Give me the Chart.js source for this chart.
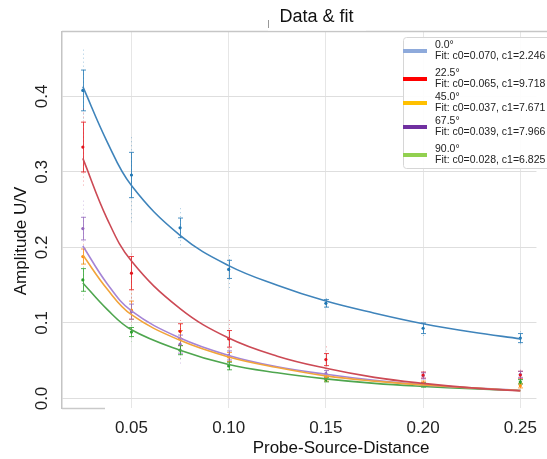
<!DOCTYPE html>
<html>
<head>
<meta charset="utf-8">
<script src="https://cdn.jsdelivr.net/npm/chart.js@4/dist/chart.umd.min.js"></script>
<style>
html,body{margin:0;padding:0;background:#fff;overflow:hidden;}
#wrap{width:547px;height:459px;position:relative;}
</style>
</head>
<body>
<div id="wrap"><canvas id="c"></canvas></div>
<script>
// ---- data ----
const angles = ["0.0°", "22.5°", "45.0°", "67.5°", "90.0°"];
const c0 = [0.070, 0.065, 0.037, 0.039, 0.028];
const c1 = [2.246, 9.718, 7.671, 7.966, 6.825];

const distances = [0.025, 0.05, 0.075, 0.10, 0.15, 0.20, 0.25];

const mean0  = [0.408, 0.296, 0.226, 0.171, 0.126, 0.093, 0.080];
const err0   = [0.027, 0.030, 0.013, 0.012, 0.005, 0.007, 0.006];
const lo0    = [0.370, 0.233, 0.200, 0.143, 0.117, 0.082, 0.071];
const hi0    = [0.462, 0.346, 0.252, 0.190, 0.133, 0.100, 0.089];

const mean22 = [0.333, 0.166, 0.089, 0.079, 0.0515, 0.031, 0.031];
const err22  = [0.033, 0.022, 0.010, 0.011, 0.008, 0.004, 0.005];
const lo22   = [0.280, 0.113, 0.065, 0.065, 0.038, 0.027, 0.025];
const hi22   = [0.384, 0.192, 0.104, 0.104, 0.069, 0.036, 0.038];

const mean45 = [0.188, 0.117, 0.080, 0.055, 0.027, 0.020, 0.017];
const err45  = [0.010, 0.012, 0.010, 0.006, 0.004, 0.003, 0.003];
const lo45   = [0.170, 0.100, 0.065, 0.045, 0.022, 0.016, 0.013];
const hi45   = [0.205, 0.150, 0.100, 0.065, 0.033, 0.024, 0.021];

const mean67 = [0.225, 0.115, 0.072, 0.057, 0.033, 0.030, 0.032];
const err67  = [0.015, 0.010, 0.012, 0.006, 0.004, 0.004, 0.004];
const lo67   = [0.195, 0.100, 0.045, 0.045, 0.026, 0.025, 0.026];
const hi67   = [0.262, 0.135, 0.090, 0.070, 0.040, 0.036, 0.038];

const mean90 = [0.157, 0.088, 0.064, 0.043, 0.025, 0.018, 0.022];
const err90  = [0.015, 0.006, 0.006, 0.005, 0.003, 0.003, 0.003];
const lo90   = [0.128, 0.075, 0.050, 0.034, 0.020, 0.014, 0.018];
const hi90   = [0.180, 0.097, 0.075, 0.050, 0.030, 0.022, 0.026];

// fit curves
const fitX   = [0.025, 0.0375, 0.05, 0.075, 0.10, 0.125, 0.15, 0.175, 0.20, 0.225, 0.25];
const fit0   = [0.413, 0.340, 0.282, 0.216, 0.176, 0.150, 0.129, 0.113, 0.099, 0.088, 0.079];
const fit22  = [0.318, 0.238, 0.182, 0.119, 0.080, 0.056, 0.040, 0.028, 0.020, 0.014, 0.010];
const fit45  = [0.190, 0.145, 0.111, 0.077, 0.055, 0.041, 0.030, 0.023, 0.018, 0.014, 0.0105];
const fit67  = [0.202, 0.152, 0.116, 0.080, 0.057, 0.042, 0.032, 0.024, 0.018, 0.014, 0.011];
const fit90  = [0.153, 0.118, 0.091, 0.064, 0.045, 0.034, 0.026, 0.020, 0.016, 0.013, 0.0105];

const xTicks = [0.05, 0.10, 0.15, 0.20, 0.25];
const yTicks = [0.0, 0.1, 0.2, 0.3, 0.4];

// ---- styles ----
const series = [
  {mean: mean0,  err: err0,  lo: lo0,  hi: hi0,  fit: fit0,  dot: '#1f77b4', line: '#3f84bb', sw: '#8eaadb'},
  {mean: mean22, err: err22, lo: lo22, hi: hi22, fit: fit22, dot: '#e3161e', line: '#cc4a55', sw: '#ff0000'},
  {mean: mean45, err: err45, lo: lo45, hi: hi45, fit: fit45, dot: '#ff8c10', line: '#f2a43a', sw: '#ffc000'},
  {mean: mean67, err: err67, lo: lo67, hi: hi67, fit: fit67, dot: '#9467bd', line: '#a585d6', sw: '#7030a0'},
  {mean: mean90, err: err90, lo: lo90, hi: hi90, fit: fit90, dot: '#2ca02c', line: '#4fa64f', sw: '#92d050'}
];
const FONT = "'Liberation Sans', Arial, sans-serif";

const datasets = [];
series.forEach((s, i) => {
  datasets.push({
    label: angles[i] + ' fit',
    data: fitX.map((x, k) => ({x: x, y: s.fit[k]})),
    showLine: true, borderColor: s.line, borderWidth: 1.6,
    pointRadius: 0, tension: 0.4, fill: false, order: 1
  });
  datasets.push({
    label: angles[i],
    data: distances.map((x, k) => ({x: x, y: s.mean[k]})),
    showLine: false, pointRadius: 1.6, pointBackgroundColor: s.dot,
    pointBorderColor: s.dot, pointBorderWidth: 0, order: 2
  });
});

const errorBars = {
  id: 'errorBars',
  beforeDatasetsDraw(chart) {
    const {ctx, scales: {x, y}} = chart;
    ctx.save();
    series.forEach(s => {
      distances.forEach((d, k) => {
        const px = Math.round(x.getPixelForValue(d)) + 0.5;
        // spread of individual samples
        ctx.strokeStyle = s.dot; ctx.globalAlpha = 0.4; ctx.lineWidth = 1;
        ctx.setLineDash([1, 3]);
        ctx.beginPath();
        ctx.moveTo(px, y.getPixelForValue(s.hi[k]));
        ctx.lineTo(px, y.getPixelForValue(s.lo[k]));
        ctx.stroke();
        ctx.setLineDash([]);
        // error bar
        ctx.globalAlpha = 0.8;
        const yt = y.getPixelForValue(s.mean[k] + s.err[k]);
        const yb = y.getPixelForValue(s.mean[k] - s.err[k]);
        ctx.beginPath();
        ctx.moveTo(px, yt); ctx.lineTo(px, yb);
        ctx.moveTo(px - 2.5, yt); ctx.lineTo(px + 2.5, yt);
        ctx.moveTo(px - 2.5, yb); ctx.lineTo(px + 2.5, yb);
        ctx.stroke();
      });
    });
    ctx.restore();
  }
};

const decor = {
  id: 'decor',
  afterDraw(chart) {
    const {ctx, chartArea: a, scales: {x, y}} = chart;
    ctx.save();
    // top frame line
    ctx.strokeStyle = '#c6c6c6'; ctx.lineWidth = 1.5;
    ctx.beginPath(); ctx.moveTo(a.left, 31.5); ctx.lineTo(547, 31.5); ctx.stroke();
    // partial bottom line
    ctx.strokeStyle = '#c9c9c9'; ctx.lineWidth = 1.5;
    ctx.beginPath(); ctx.moveTo(a.left, 408.5); ctx.lineTo(105, 408.5); ctx.stroke();
    // title box
    ctx.fillStyle = '#fff';
    ctx.fillRect(268, 0, 98, 30.5);
    ctx.strokeStyle = '#999'; ctx.lineWidth = 1;
    ctx.beginPath(); ctx.moveTo(268.5, 20); ctx.lineTo(268.5, 28); ctx.stroke();
    ctx.fillStyle = '#111';
    ctx.font = '18px ' + FONT;
    ctx.textAlign = 'center'; ctx.textBaseline = 'middle';
    ctx.fillText('Data & fit', 316.5, 17);
    // y tick labels (rotated)
    ctx.font = '17px ' + FONT;
    ctx.fillStyle = '#222';
    yTicks.forEach(v => {
      const py = y.getPixelForValue(v);
      ctx.save();
      ctx.translate(42, py);
      ctx.rotate(-Math.PI / 2);
      ctx.fillText(v.toFixed(1), 0, 0);
      ctx.restore();
    });
    // y title
    ctx.save();
    ctx.translate(21, 241);
    ctx.rotate(-Math.PI / 2);
    ctx.fillStyle = '#111';
    ctx.fillText('Amplitude U/V', 0, 0);
    ctx.restore();
    // x title
    ctx.fillStyle = '#111';
    ctx.fillText('Probe-Source-Distance', 341, 448);
    // legend
    const lx = 403, ly = 37, lw = 150, lh = 131;
    ctx.fillStyle = 'rgba(255,255,255,0.92)';
    ctx.strokeStyle = '#d6d6d6'; ctx.lineWidth = 1;
    ctx.beginPath();
    if (ctx.roundRect) ctx.roundRect(lx + 0.5, ly + 0.5, lw, lh, 3); else ctx.rect(lx + 0.5, ly + 0.5, lw, lh);
    ctx.fill(); ctx.stroke();
    ctx.font = '10.5px ' + FONT;
    ctx.textAlign = 'left'; ctx.textBaseline = 'middle';
    const swY = [51, 79, 103, 127, 155];
    series.forEach((s, i) => {
      const cy = swY[i];
      ctx.fillStyle = s.sw;
      ctx.fillRect(lx, cy - 2, 24, 4);
      ctx.fillStyle = '#222';
      ctx.fillText(angles[i], 435, cy - 6);
      ctx.fillText('Fit: c0=' + c0[i].toFixed(3) + ', c1=' + c1[i].toFixed(3), 435, cy + 5);
    });
    ctx.restore();
  }
};

new Chart(document.getElementById('c'), {
  type: 'scatter',
  data: {datasets: datasets},
  options: {
    responsive: true, maintainAspectRatio: false, animation: false,
    devicePixelRatio: 1,
    layout: {padding: {top: 32, left: 0, right: 0, bottom: 0}},
    plugins: {legend: {display: false}, title: {display: false}, tooltip: {enabled: false}},
    scales: {
      x: {
        type: 'linear', min: 0.01428, max: 0.2583,
        afterFit(s) { s.height = 51; },
        afterBuildTicks(s) { s.ticks = xTicks.map(v => ({value: v})); },
        ticks: {font: {size: 17, family: FONT}, color: '#222', padding: 10,
                callback: v => Number(v).toFixed(2), maxRotation: 0, includeBounds: false},
        grid: {color: '#e6e6e6', drawTicks: false},
        border: {display: false}
      },
      y: {
        type: 'linear', min: -0.0126, max: 0.4854,
        afterFit(s) { s.width = 62; },
        afterBuildTicks(s) { s.ticks = yTicks.map(v => ({value: v})); },
        ticks: {display: false, includeBounds: false},
        grid: {color: '#dedede', drawTicks: false},
        border: {display: true, color: '#c4c4c4', width: 1.5}
      }
    }
  },
  plugins: [errorBars, decor]
});
</script>
</body>
</html>
